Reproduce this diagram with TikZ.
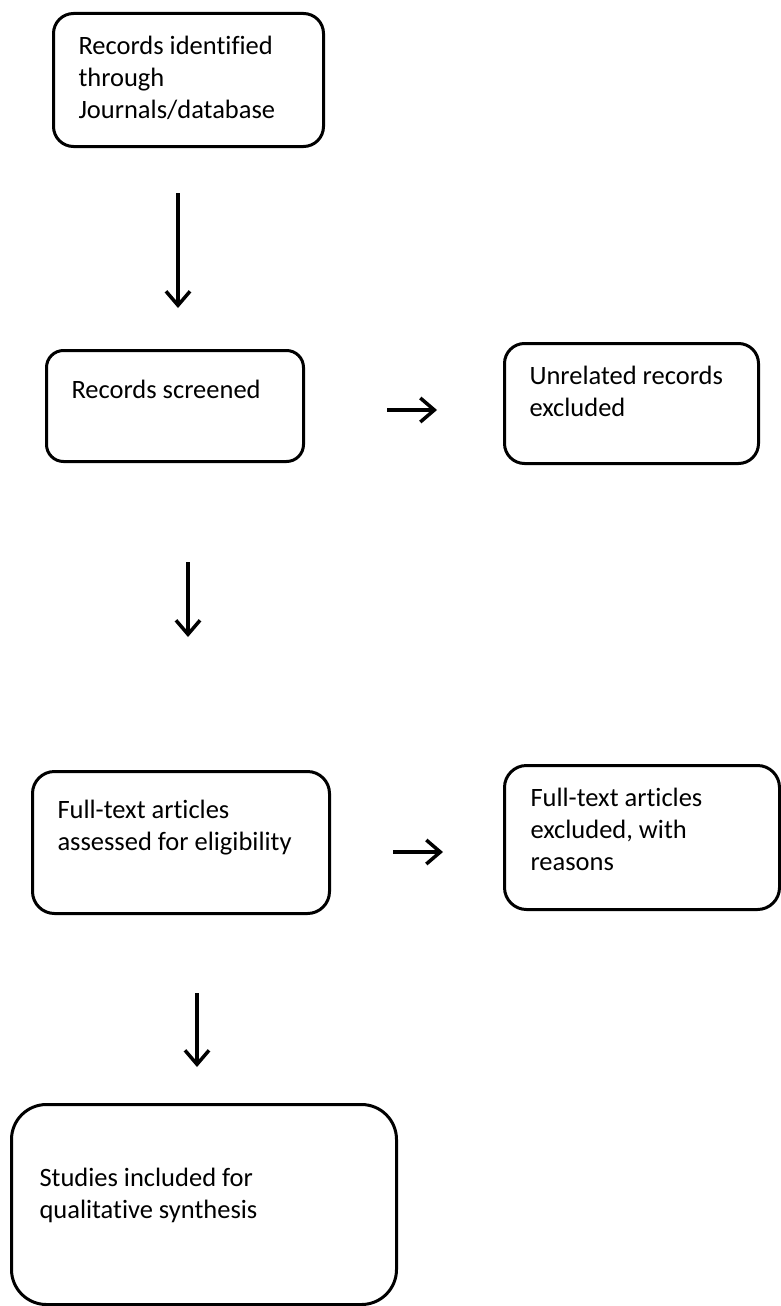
\documentclass[tikz,border=0pt]{standalone}
\usepackage{fontspec}
\setmainfont{Carlito}[Ligatures=NoCommon]
\usetikzlibrary{arrows.meta}

\begin{document}
\begin{tikzpicture}[x=1pt, y=-1pt,
    stepbox/.style={rectangle, draw=black, line width=3pt, rounded corners=20pt, anchor=north west, inner sep=0pt, font=\fontsize{26.5}{32}\selectfont},
    arr/.style={line width=3.5pt, -{Straight Barb[length=14pt, width=24pt, line width=3.5pt]}}
]
\useasboundingbox (0,0) rectangle (780,1306);

\node[stepbox, inner xsep=25pt, inner ysep=23pt] (ident) at (52,12) {\parbox[t][87pt][t]{220pt}{Records identified\\through\\Journals/database}};
\node[stepbox, inner xsep=25pt, inner ysep=30pt, rounded corners=17pt] (screen) at (45,349) {\parbox[t][51pt][t]{207pt}{Records screened}};
\node[stepbox, inner xsep=25pt, inner ysep=23pt] (unrel) at (503,342) {\parbox[t][74pt][t]{204pt}{Unrelated records\\excluded}};
\node[stepbox, inner xsep=25pt, inner ysep=29pt, rounded corners=22pt] (fulltext) at (31,770) {\parbox[t][84pt][t]{247pt}{Full-text articles\\assessed for eligibility}};
\node[stepbox, inner xsep=26pt, inner ysep=23pt, rounded corners=22pt] (ftexcl) at (503,764) {\parbox[t][98pt][t]{223pt}{Full-text articles\\excluded, with\\reasons}};
\node[stepbox, inner xsep=28pt, inner ysep=64pt, rounded corners=35pt] (incl) at (10,1103) {\parbox[t][72pt][t]{329pt}{Studies included for\\qualitative synthesis}};

% arrow ends (the arrows do not touch the boxes)
\coordinate (a1s) at (178,193);
\coordinate (a1e) at (178,308);
\coordinate (a2s) at (387,410);
\coordinate (a2e) at (437,410);
\coordinate (a3s) at (188,562);
\coordinate (a3e) at (188,637);
\coordinate (a4s) at (393,852);
\coordinate (a4e) at (443,852);
\coordinate (a5s) at (197,993);
\coordinate (a5e) at (197,1067);

\draw[arr] (a1s) -- (a1e);
\draw[arr] (a2s) -- (a2e);
\draw[arr] (a3s) -- (a3e);
\draw[arr] (a4s) -- (a4e);
\draw[arr] (a5s) -- (a5e);
\end{tikzpicture}
\end{document}
